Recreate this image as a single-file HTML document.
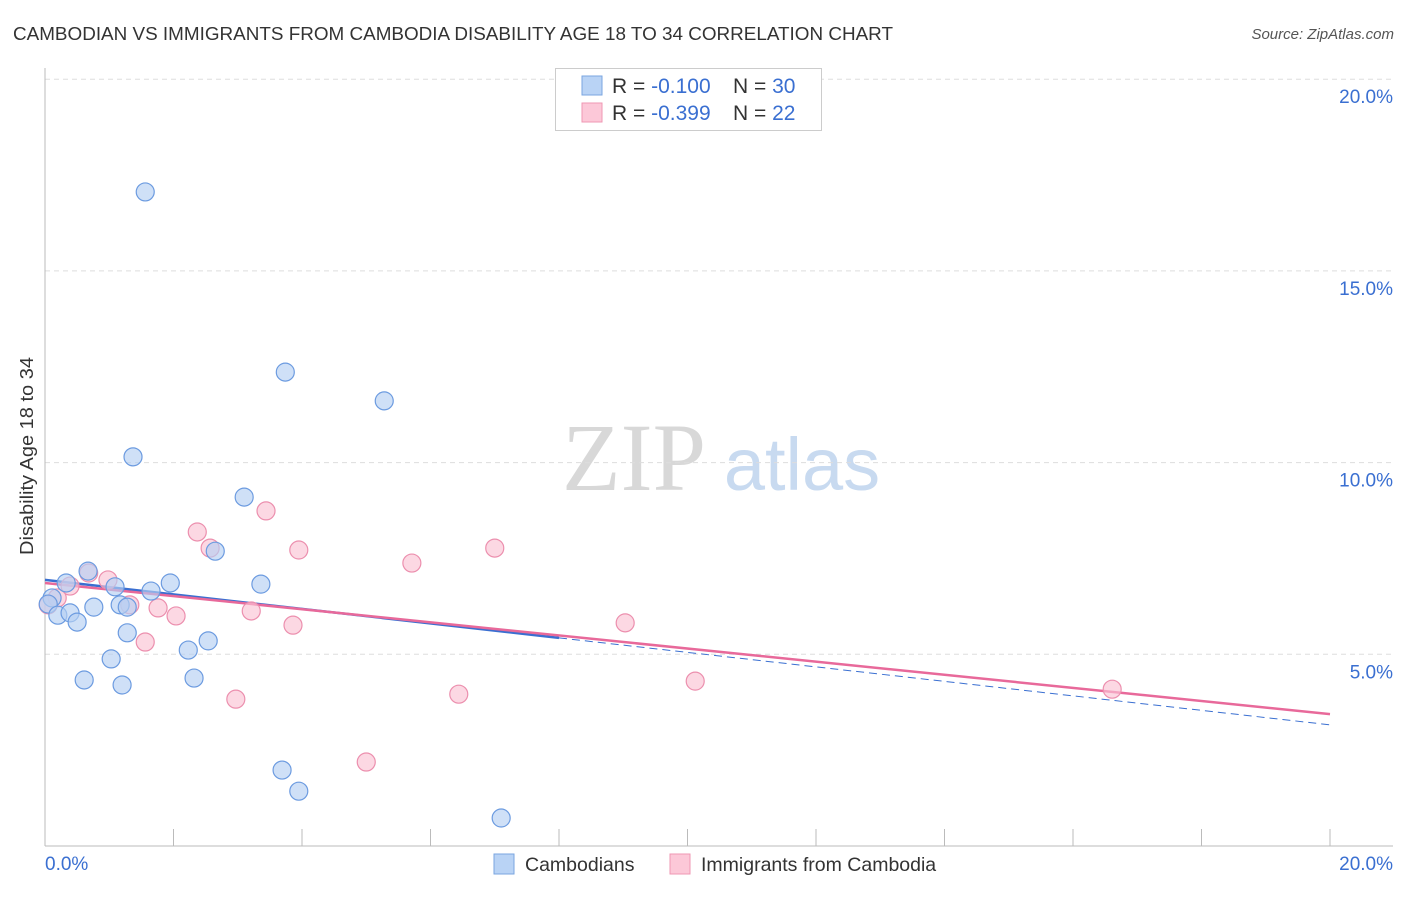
<!DOCTYPE html>
<html><head><meta charset="utf-8"><style>
body{margin:0;background:#fff;width:1406px;height:892px;overflow:hidden;font-family:"Liberation Sans",sans-serif}
</style></head><body>
<svg id="chart" width="1406" height="892" xmlns="http://www.w3.org/2000/svg">
<text x="13" y="40" font-size="18.5" fill="#333" textLength="880" lengthAdjust="spacingAndGlyphs">CAMBODIAN VS IMMIGRANTS FROM CAMBODIA DISABILITY AGE 18 TO 34 CORRELATION CHART</text>
<text x="1394" y="39" font-size="15" fill="#555" text-anchor="end" font-style="italic">Source: ZipAtlas.com</text>
<text transform="translate(33,456) rotate(-90)" font-size="18.5" fill="#333" text-anchor="middle" textLength="198" lengthAdjust="spacingAndGlyphs">Disability Age 18 to 34</text>
<g>
<text x="634" y="490" font-size="96" fill="#d8d8d8" font-family="Liberation Serif,serif" text-anchor="middle">ZIP</text>
<text x="802" y="490" font-size="74" fill="#c8daf0" text-anchor="middle">atlas</text>
</g>
<g id="grid"></g><g id="axes"></g><g id="trends"></g><g id="points"></g>
<g>
<rect x="555.5" y="68.5" width="266" height="62" fill="#fff" stroke="#ccc"/>
<rect x="582" y="76" width="20" height="19" fill="#b9d3f5" stroke="#7aa6e0"/>
<rect x="582" y="103" width="20" height="19" fill="#fcc8d8" stroke="#ef97b3"/>
<text x="612" y="93" font-size="21" fill="#333">R = <tspan fill="#3a6fd1">-0.100</tspan><tspan x="733">N = </tspan><tspan fill="#3a6fd1">30</tspan></text>
<text x="612" y="120" font-size="21" fill="#333">R = <tspan fill="#3a6fd1">-0.399</tspan><tspan x="733">N = </tspan><tspan fill="#3a6fd1"> 22</tspan></text>
</g>
<g>
<rect x="494" y="854" width="20" height="20" fill="#b9d3f5" stroke="#7aa6e0"/>
<text x="525" y="871" font-size="19.5" fill="#333">Cambodians</text>
<rect x="670" y="854" width="20" height="20" fill="#fcc8d8" stroke="#ef97b3"/>
<text x="701" y="871" font-size="19.5" fill="#333">Immigrants from Cambodia</text>
</g>
</svg>
<script>
const yTicks=[5,10,15,20];
const yTickLabels=["5.0%","10.0%","15.0%","20.0%"];
const xTicks=[0,2,4,6,8,10,12,14,16,18,20];
const blueX=[1.56,3.74,5.28,1.37,3.10,2.65,0.67,1.09,1.95,3.36,1.65,0.33,0.11,0.05,1.17,1.28,0.76,0.20,0.39,0.50,1.28,2.54,2.23,1.03,0.61,1.20,2.32,3.69,3.95,7.10];
const blueY=[17.06,12.36,11.61,10.15,9.10,7.69,7.17,6.76,6.86,6.83,6.65,6.86,6.47,6.31,6.29,6.23,6.23,6.02,6.08,5.84,5.56,5.35,5.11,4.88,4.33,4.20,4.38,1.98,1.43,0.73];
const pinkX=[3.44,2.37,2.57,3.95,7.00,5.71,0.98,0.68,0.39,0.19,1.32,1.76,2.04,3.21,3.86,9.03,1.56,2.97,6.44,10.12,5.00,16.61,0.05];
const pinkY=[8.74,8.19,7.77,7.72,7.77,7.38,6.94,7.12,6.78,6.47,6.29,6.21,6.00,6.13,5.76,5.82,5.32,3.83,3.96,4.30,2.19,4.09,6.29];
const blueTrend=[6.94,-0.189];
const pinkTrend=[6.86,-0.171];
const X=v=>45+v/20*1285, Y=v=>846-v/5*191.7;
const NS="http://www.w3.org/2000/svg";
function mk(tag,attrs,parent){const e=document.createElementNS(NS,tag);for(const k in attrs)e.setAttribute(k,attrs[k]);document.getElementById(parent).appendChild(e);return e;}
yTicks.forEach((t,i)=>{
 const l=mk('line',{x1:45,x2:1393,y1:Y(t),y2:Y(t),stroke:'#ddd','stroke-dasharray':'5,4'},'grid');
 
 
 const tx=mk('text',{x:1393,y:Y(t)+24,'font-size':19,fill:'#3a6fd1','text-anchor':'end'},'grid');
 tx.textContent=yTickLabels[i];
 
 
});
let a=mk('line',{x1:45,x2:45,y1:68,y2:846,stroke:'#bbb'},'axes');


a=mk('line',{x1:45,x2:1393,y1:846,y2:846,stroke:'#bbb'},'axes');


xTicks.forEach(t=>{const l=mk('line',{x1:X(t),x2:X(t),y1:829,y2:846,stroke:'#bbb'},'axes');
 
 });
let xl=mk('text',{x:45,y:870,'font-size':19,fill:'#3a6fd1'},'axes');xl.textContent='0.0%';


xl=mk('text',{x:1393,y:870,'font-size':19,fill:'#3a6fd1','text-anchor':'end'},'axes');xl.textContent='20.0%';


function pts(xs,ys,fill,stroke,name){xs.forEach((x,i)=>{const c=mk('circle',{cx:X(x),cy:Y(ys[i]),r:9,fill:fill,stroke:stroke,'stroke-width':1.2,'fill-opacity':0.65},'points');
 
 });}
pts(pinkX,pinkY,'#fbc3d4','#ec8fae','immigrant-point');
pts(blueX,blueY,'#b6d0f3','#6c9be0','cambodian-point');
let t=mk('line',{x1:X(0),y1:Y(blueTrend[0]),x2:X(8),y2:Y(blueTrend[0]+blueTrend[1]*8),stroke:'#3a6fd1','stroke-width':2.5},'trends');


t=mk('line',{x1:X(8),y1:Y(blueTrend[0]+blueTrend[1]*8),x2:X(20),y2:Y(blueTrend[0]+blueTrend[1]*20),stroke:'#3a6fd1','stroke-width':1,'stroke-dasharray':'8,5'},'trends');


t=mk('line',{x1:X(0),y1:Y(pinkTrend[0]),x2:X(20),y2:Y(pinkTrend[0]+pinkTrend[1]*20),stroke:'#e8699a','stroke-width':2.5},'trends');


</script>
</body></html>
